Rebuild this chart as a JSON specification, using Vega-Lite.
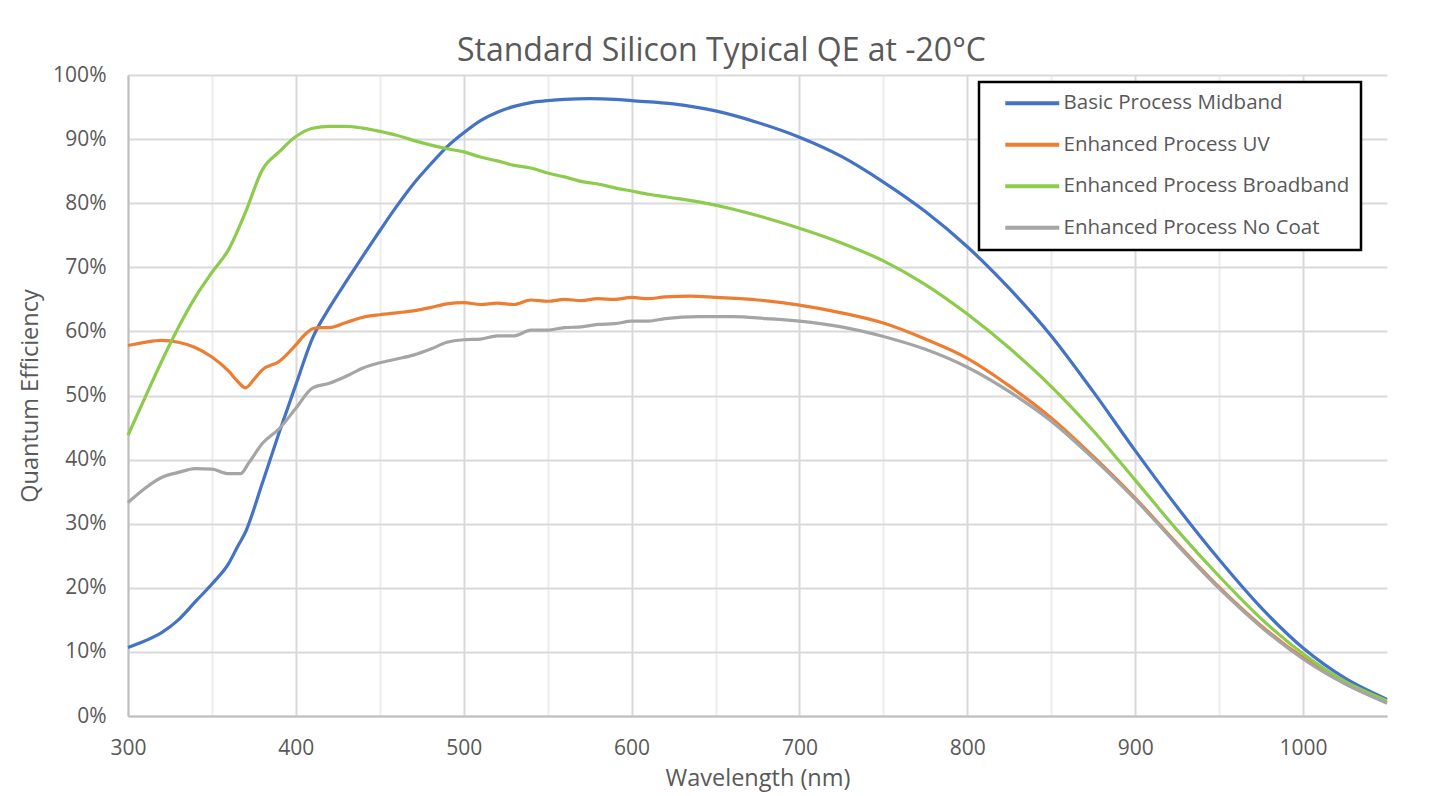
{
  "$schema": "https://vega.github.io/schema/vega-lite/v6.json",
  "autosize": {"type": "none"},
  "padding": {"left": 128, "top": 75, "right": 55, "bottom": 80},
  "width": 1259,
  "height": 641,
  "background": "white",
  "title": {
    "text": "Standard Silicon Typical QE at -20°C",
    "anchor": "middle",
    "frame": "group",
    "dx": -36,
    "offset": -4,
    "font": "Open Sans",
    "fontSize": 32,
    "fontWeight": "normal",
    "color": "#595959"
  },
  "config": {
    "font": "Open Sans",
    "view": {"stroke": null},
    "axis": {
      "labelFont": "Open Sans",
      "titleFont": "Open Sans",
      "labelColor": "#595959",
      "titleColor": "#595959",
      "labelFontSize": 21,
      "titleFontSize": 23.5,
      "titleFontWeight": "normal",
      "ticks": false,
      "domainColor": "#BFBFBF",
      "domainWidth": 2
    }
  },
  "data": {
    "values": [
      {"wl": 300, "qe": 10.7, "series": "Basic Process Midband"},
      {"wl": 310, "qe": 11.7, "series": "Basic Process Midband"},
      {"wl": 320, "qe": 13.0, "series": "Basic Process Midband"},
      {"wl": 330, "qe": 15.0, "series": "Basic Process Midband"},
      {"wl": 340, "qe": 17.8, "series": "Basic Process Midband"},
      {"wl": 350, "qe": 20.6, "series": "Basic Process Midband"},
      {"wl": 360, "qe": 23.8, "series": "Basic Process Midband"},
      {"wl": 365, "qe": 26.3, "series": "Basic Process Midband"},
      {"wl": 370, "qe": 28.7, "series": "Basic Process Midband"},
      {"wl": 380, "qe": 36.3, "series": "Basic Process Midband"},
      {"wl": 390, "qe": 44.2, "series": "Basic Process Midband"},
      {"wl": 400, "qe": 51.7, "series": "Basic Process Midband"},
      {"wl": 410, "qe": 59.0, "series": "Basic Process Midband"},
      {"wl": 420, "qe": 63.7, "series": "Basic Process Midband"},
      {"wl": 430, "qe": 67.8, "series": "Basic Process Midband"},
      {"wl": 440, "qe": 71.8, "series": "Basic Process Midband"},
      {"wl": 450, "qe": 75.7, "series": "Basic Process Midband"},
      {"wl": 460, "qe": 79.5, "series": "Basic Process Midband"},
      {"wl": 470, "qe": 83.0, "series": "Basic Process Midband"},
      {"wl": 480, "qe": 86.0, "series": "Basic Process Midband"},
      {"wl": 490, "qe": 88.8, "series": "Basic Process Midband"},
      {"wl": 500, "qe": 91.0, "series": "Basic Process Midband"},
      {"wl": 510, "qe": 92.9, "series": "Basic Process Midband"},
      {"wl": 520, "qe": 94.2, "series": "Basic Process Midband"},
      {"wl": 530, "qe": 95.1, "series": "Basic Process Midband"},
      {"wl": 540, "qe": 95.7, "series": "Basic Process Midband"},
      {"wl": 550, "qe": 96.0, "series": "Basic Process Midband"},
      {"wl": 560, "qe": 96.2, "series": "Basic Process Midband"},
      {"wl": 575, "qe": 96.3, "series": "Basic Process Midband"},
      {"wl": 590, "qe": 96.2, "series": "Basic Process Midband"},
      {"wl": 600, "qe": 96.0, "series": "Basic Process Midband"},
      {"wl": 625, "qe": 95.5, "series": "Basic Process Midband"},
      {"wl": 650, "qe": 94.4, "series": "Basic Process Midband"},
      {"wl": 675, "qe": 92.6, "series": "Basic Process Midband"},
      {"wl": 700, "qe": 90.3, "series": "Basic Process Midband"},
      {"wl": 725, "qe": 87.3, "series": "Basic Process Midband"},
      {"wl": 750, "qe": 83.3, "series": "Basic Process Midband"},
      {"wl": 775, "qe": 78.7, "series": "Basic Process Midband"},
      {"wl": 800, "qe": 73.2, "series": "Basic Process Midband"},
      {"wl": 825, "qe": 66.7, "series": "Basic Process Midband"},
      {"wl": 850, "qe": 59.3, "series": "Basic Process Midband"},
      {"wl": 875, "qe": 50.6, "series": "Basic Process Midband"},
      {"wl": 900, "qe": 41.4, "series": "Basic Process Midband"},
      {"wl": 925, "qe": 32.6, "series": "Basic Process Midband"},
      {"wl": 950, "qe": 24.4, "series": "Basic Process Midband"},
      {"wl": 975, "qe": 16.9, "series": "Basic Process Midband"},
      {"wl": 1000, "qe": 10.6, "series": "Basic Process Midband"},
      {"wl": 1025, "qe": 5.9, "series": "Basic Process Midband"},
      {"wl": 1050, "qe": 2.6, "series": "Basic Process Midband"},

      {"wl": 300, "qe": 57.8, "series": "Enhanced Process UV"},
      {"wl": 310, "qe": 58.3, "series": "Enhanced Process UV"},
      {"wl": 320, "qe": 58.6, "series": "Enhanced Process UV"},
      {"wl": 330, "qe": 58.3, "series": "Enhanced Process UV"},
      {"wl": 340, "qe": 57.5, "series": "Enhanced Process UV"},
      {"wl": 350, "qe": 56.0, "series": "Enhanced Process UV"},
      {"wl": 360, "qe": 53.8, "series": "Enhanced Process UV"},
      {"wl": 365, "qe": 52.3, "series": "Enhanced Process UV"},
      {"wl": 370, "qe": 51.2, "series": "Enhanced Process UV"},
      {"wl": 375, "qe": 52.5, "series": "Enhanced Process UV"},
      {"wl": 380, "qe": 54.0, "series": "Enhanced Process UV"},
      {"wl": 390, "qe": 55.3, "series": "Enhanced Process UV"},
      {"wl": 400, "qe": 57.9, "series": "Enhanced Process UV"},
      {"wl": 405, "qe": 59.4, "series": "Enhanced Process UV"},
      {"wl": 410, "qe": 60.4, "series": "Enhanced Process UV"},
      {"wl": 415, "qe": 60.6, "series": "Enhanced Process UV"},
      {"wl": 420, "qe": 60.6, "series": "Enhanced Process UV"},
      {"wl": 430, "qe": 61.4, "series": "Enhanced Process UV"},
      {"wl": 440, "qe": 62.2, "series": "Enhanced Process UV"},
      {"wl": 450, "qe": 62.6, "series": "Enhanced Process UV"},
      {"wl": 460, "qe": 62.9, "series": "Enhanced Process UV"},
      {"wl": 470, "qe": 63.2, "series": "Enhanced Process UV"},
      {"wl": 480, "qe": 63.7, "series": "Enhanced Process UV"},
      {"wl": 490, "qe": 64.3, "series": "Enhanced Process UV"},
      {"wl": 500, "qe": 64.5, "series": "Enhanced Process UV"},
      {"wl": 510, "qe": 64.2, "series": "Enhanced Process UV"},
      {"wl": 520, "qe": 64.4, "series": "Enhanced Process UV"},
      {"wl": 530, "qe": 64.2, "series": "Enhanced Process UV"},
      {"wl": 540, "qe": 64.9, "series": "Enhanced Process UV"},
      {"wl": 550, "qe": 64.7, "series": "Enhanced Process UV"},
      {"wl": 560, "qe": 65.0, "series": "Enhanced Process UV"},
      {"wl": 570, "qe": 64.8, "series": "Enhanced Process UV"},
      {"wl": 580, "qe": 65.1, "series": "Enhanced Process UV"},
      {"wl": 590, "qe": 65.0, "series": "Enhanced Process UV"},
      {"wl": 600, "qe": 65.3, "series": "Enhanced Process UV"},
      {"wl": 610, "qe": 65.1, "series": "Enhanced Process UV"},
      {"wl": 620, "qe": 65.4, "series": "Enhanced Process UV"},
      {"wl": 635, "qe": 65.5, "series": "Enhanced Process UV"},
      {"wl": 650, "qe": 65.3, "series": "Enhanced Process UV"},
      {"wl": 675, "qe": 64.9, "series": "Enhanced Process UV"},
      {"wl": 700, "qe": 64.1, "series": "Enhanced Process UV"},
      {"wl": 725, "qe": 62.9, "series": "Enhanced Process UV"},
      {"wl": 750, "qe": 61.3, "series": "Enhanced Process UV"},
      {"wl": 775, "qe": 58.8, "series": "Enhanced Process UV"},
      {"wl": 800, "qe": 55.8, "series": "Enhanced Process UV"},
      {"wl": 825, "qe": 51.5, "series": "Enhanced Process UV"},
      {"wl": 850, "qe": 46.5, "series": "Enhanced Process UV"},
      {"wl": 875, "qe": 40.5, "series": "Enhanced Process UV"},
      {"wl": 900, "qe": 34.0, "series": "Enhanced Process UV"},
      {"wl": 925, "qe": 26.9, "series": "Enhanced Process UV"},
      {"wl": 950, "qe": 20.1, "series": "Enhanced Process UV"},
      {"wl": 975, "qe": 14.1, "series": "Enhanced Process UV"},
      {"wl": 1000, "qe": 9.1, "series": "Enhanced Process UV"},
      {"wl": 1025, "qe": 5.1, "series": "Enhanced Process UV"},
      {"wl": 1050, "qe": 2.1, "series": "Enhanced Process UV"},

      {"wl": 300, "qe": 43.8, "series": "Enhanced Process Broadband"},
      {"wl": 310, "qe": 49.6, "series": "Enhanced Process Broadband"},
      {"wl": 320, "qe": 55.3, "series": "Enhanced Process Broadband"},
      {"wl": 330, "qe": 60.6, "series": "Enhanced Process Broadband"},
      {"wl": 340, "qe": 65.3, "series": "Enhanced Process Broadband"},
      {"wl": 350, "qe": 69.2, "series": "Enhanced Process Broadband"},
      {"wl": 360, "qe": 72.8, "series": "Enhanced Process Broadband"},
      {"wl": 370, "qe": 78.6, "series": "Enhanced Process Broadband"},
      {"wl": 380, "qe": 85.2, "series": "Enhanced Process Broadband"},
      {"wl": 390, "qe": 88.0, "series": "Enhanced Process Broadband"},
      {"wl": 400, "qe": 90.4, "series": "Enhanced Process Broadband"},
      {"wl": 410, "qe": 91.7, "series": "Enhanced Process Broadband"},
      {"wl": 420, "qe": 92.0, "series": "Enhanced Process Broadband"},
      {"wl": 430, "qe": 92.0, "series": "Enhanced Process Broadband"},
      {"wl": 440, "qe": 91.7, "series": "Enhanced Process Broadband"},
      {"wl": 450, "qe": 91.2, "series": "Enhanced Process Broadband"},
      {"wl": 460, "qe": 90.6, "series": "Enhanced Process Broadband"},
      {"wl": 470, "qe": 89.8, "series": "Enhanced Process Broadband"},
      {"wl": 480, "qe": 89.1, "series": "Enhanced Process Broadband"},
      {"wl": 490, "qe": 88.5, "series": "Enhanced Process Broadband"},
      {"wl": 500, "qe": 88.0, "series": "Enhanced Process Broadband"},
      {"wl": 510, "qe": 87.2, "series": "Enhanced Process Broadband"},
      {"wl": 520, "qe": 86.6, "series": "Enhanced Process Broadband"},
      {"wl": 530, "qe": 85.9, "series": "Enhanced Process Broadband"},
      {"wl": 540, "qe": 85.5, "series": "Enhanced Process Broadband"},
      {"wl": 550, "qe": 84.7, "series": "Enhanced Process Broadband"},
      {"wl": 560, "qe": 84.1, "series": "Enhanced Process Broadband"},
      {"wl": 570, "qe": 83.4, "series": "Enhanced Process Broadband"},
      {"wl": 580, "qe": 83.0, "series": "Enhanced Process Broadband"},
      {"wl": 590, "qe": 82.4, "series": "Enhanced Process Broadband"},
      {"wl": 600, "qe": 81.9, "series": "Enhanced Process Broadband"},
      {"wl": 610, "qe": 81.4, "series": "Enhanced Process Broadband"},
      {"wl": 620, "qe": 81.0, "series": "Enhanced Process Broadband"},
      {"wl": 640, "qe": 80.2, "series": "Enhanced Process Broadband"},
      {"wl": 660, "qe": 79.1, "series": "Enhanced Process Broadband"},
      {"wl": 680, "qe": 77.7, "series": "Enhanced Process Broadband"},
      {"wl": 700, "qe": 76.1, "series": "Enhanced Process Broadband"},
      {"wl": 725, "qe": 73.8, "series": "Enhanced Process Broadband"},
      {"wl": 750, "qe": 71.0, "series": "Enhanced Process Broadband"},
      {"wl": 775, "qe": 67.3, "series": "Enhanced Process Broadband"},
      {"wl": 800, "qe": 62.7, "series": "Enhanced Process Broadband"},
      {"wl": 825, "qe": 57.4, "series": "Enhanced Process Broadband"},
      {"wl": 850, "qe": 51.4, "series": "Enhanced Process Broadband"},
      {"wl": 875, "qe": 44.5, "series": "Enhanced Process Broadband"},
      {"wl": 900, "qe": 36.8, "series": "Enhanced Process Broadband"},
      {"wl": 925, "qe": 29.0, "series": "Enhanced Process Broadband"},
      {"wl": 950, "qe": 21.8, "series": "Enhanced Process Broadband"},
      {"wl": 975, "qe": 15.2, "series": "Enhanced Process Broadband"},
      {"wl": 1000, "qe": 9.7, "series": "Enhanced Process Broadband"},
      {"wl": 1025, "qe": 5.4, "series": "Enhanced Process Broadband"},
      {"wl": 1050, "qe": 2.4, "series": "Enhanced Process Broadband"},

      {"wl": 300, "qe": 33.3, "series": "Enhanced Process No Coat"},
      {"wl": 310, "qe": 35.5, "series": "Enhanced Process No Coat"},
      {"wl": 320, "qe": 37.2, "series": "Enhanced Process No Coat"},
      {"wl": 330, "qe": 38.0, "series": "Enhanced Process No Coat"},
      {"wl": 340, "qe": 38.6, "series": "Enhanced Process No Coat"},
      {"wl": 350, "qe": 38.5, "series": "Enhanced Process No Coat"},
      {"wl": 360, "qe": 37.8, "series": "Enhanced Process No Coat"},
      {"wl": 367, "qe": 37.8, "series": "Enhanced Process No Coat"},
      {"wl": 372, "qe": 39.5, "series": "Enhanced Process No Coat"},
      {"wl": 380, "qe": 42.5, "series": "Enhanced Process No Coat"},
      {"wl": 390, "qe": 44.8, "series": "Enhanced Process No Coat"},
      {"wl": 400, "qe": 48.0, "series": "Enhanced Process No Coat"},
      {"wl": 410, "qe": 51.2, "series": "Enhanced Process No Coat"},
      {"wl": 420, "qe": 51.9, "series": "Enhanced Process No Coat"},
      {"wl": 430, "qe": 53.0, "series": "Enhanced Process No Coat"},
      {"wl": 440, "qe": 54.3, "series": "Enhanced Process No Coat"},
      {"wl": 450, "qe": 55.1, "series": "Enhanced Process No Coat"},
      {"wl": 460, "qe": 55.7, "series": "Enhanced Process No Coat"},
      {"wl": 470, "qe": 56.3, "series": "Enhanced Process No Coat"},
      {"wl": 480, "qe": 57.2, "series": "Enhanced Process No Coat"},
      {"wl": 490, "qe": 58.3, "series": "Enhanced Process No Coat"},
      {"wl": 500, "qe": 58.7, "series": "Enhanced Process No Coat"},
      {"wl": 510, "qe": 58.8, "series": "Enhanced Process No Coat"},
      {"wl": 520, "qe": 59.3, "series": "Enhanced Process No Coat"},
      {"wl": 530, "qe": 59.3, "series": "Enhanced Process No Coat"},
      {"wl": 540, "qe": 60.2, "series": "Enhanced Process No Coat"},
      {"wl": 550, "qe": 60.2, "series": "Enhanced Process No Coat"},
      {"wl": 560, "qe": 60.6, "series": "Enhanced Process No Coat"},
      {"wl": 570, "qe": 60.7, "series": "Enhanced Process No Coat"},
      {"wl": 580, "qe": 61.1, "series": "Enhanced Process No Coat"},
      {"wl": 590, "qe": 61.2, "series": "Enhanced Process No Coat"},
      {"wl": 600, "qe": 61.6, "series": "Enhanced Process No Coat"},
      {"wl": 610, "qe": 61.6, "series": "Enhanced Process No Coat"},
      {"wl": 620, "qe": 62.0, "series": "Enhanced Process No Coat"},
      {"wl": 640, "qe": 62.3, "series": "Enhanced Process No Coat"},
      {"wl": 660, "qe": 62.3, "series": "Enhanced Process No Coat"},
      {"wl": 680, "qe": 62.0, "series": "Enhanced Process No Coat"},
      {"wl": 700, "qe": 61.6, "series": "Enhanced Process No Coat"},
      {"wl": 725, "qe": 60.7, "series": "Enhanced Process No Coat"},
      {"wl": 750, "qe": 59.2, "series": "Enhanced Process No Coat"},
      {"wl": 775, "qe": 57.2, "series": "Enhanced Process No Coat"},
      {"wl": 800, "qe": 54.4, "series": "Enhanced Process No Coat"},
      {"wl": 825, "qe": 50.6, "series": "Enhanced Process No Coat"},
      {"wl": 850, "qe": 46.0, "series": "Enhanced Process No Coat"},
      {"wl": 875, "qe": 40.2, "series": "Enhanced Process No Coat"},
      {"wl": 900, "qe": 33.8, "series": "Enhanced Process No Coat"},
      {"wl": 925, "qe": 26.7, "series": "Enhanced Process No Coat"},
      {"wl": 950, "qe": 19.9, "series": "Enhanced Process No Coat"},
      {"wl": 975, "qe": 13.9, "series": "Enhanced Process No Coat"},
      {"wl": 1000, "qe": 8.9, "series": "Enhanced Process No Coat"},
      {"wl": 1025, "qe": 5.0, "series": "Enhanced Process No Coat"},
      {"wl": 1050, "qe": 2.0, "series": "Enhanced Process No Coat"}
    ]
  },
  "mark": {"type": "line", "interpolate": "monotone", "strokeWidth": 3.2},
  "encoding": {
    "x": {
      "field": "wl",
      "type": "quantitative",
      "scale": {"domain": [300, 1050], "nice": false, "zero": false},
      "axis": {
        "title": "Wavelength (nm)",
        "values": [300, 350, 400, 450, 500, 550, 600, 650, 700, 750, 800, 850, 900, 950, 1000],
        "labelExpr": "datum.value % 100 === 0 ? '' + datum.value : ''",
        "labelFlush": false,
        "labelPadding": 21,
        "titlePadding": 8,
        "grid": true,
        "gridWidth": 2,
        "gridColor": {"condition": {"test": "datum.value % 100 === 0", "value": "#D9D9D9"}, "value": "#EDEDED"}
      }
    },
    "y": {
      "field": "qe",
      "type": "quantitative",
      "scale": {"domain": [0, 100], "nice": false},
      "axis": {
        "title": "Quantum Efficiency",
        "values": [0, 10, 20, 30, 40, 50, 60, 70, 80, 90, 100],
        "labelExpr": "datum.value + '%'",
        "labelPadding": 22,
        "titlePadding": 10,
        "grid": true,
        "gridWidth": 2,
        "gridColor": "#D9D9D9"
      }
    },
    "color": {
      "field": "series",
      "type": "nominal",
      "scale": {
        "domain": ["Basic Process Midband", "Enhanced Process UV", "Enhanced Process Broadband", "Enhanced Process No Coat"],
        "range": ["#4472C4", "#ED7D31", "#8CCB4B", "#A5A5A5"]
      },
      "legend": {
        "title": null,
        "orient": "none",
        "legendX": 851,
        "legendY": 7,
        "direction": "vertical",
        "symbolType": "M-4,0H4",
        "symbolSize": 182,
        "symbolStrokeWidth": 4,
        "symbolOffset": 32,
        "labelFont": "Open Sans",
        "labelFontSize": 20.5,
        "labelColor": "#595959",
        "labelOffset": 21,
        "labelLimit": 400,
        "rowPadding": 20.5,
        "padding": 11,
        "fillColor": "white",
        "strokeColor": "black",
        "encode": {"legend": {"update": {"strokeWidth": {"value": 2.5}}}}
      }
    }
  }
}
